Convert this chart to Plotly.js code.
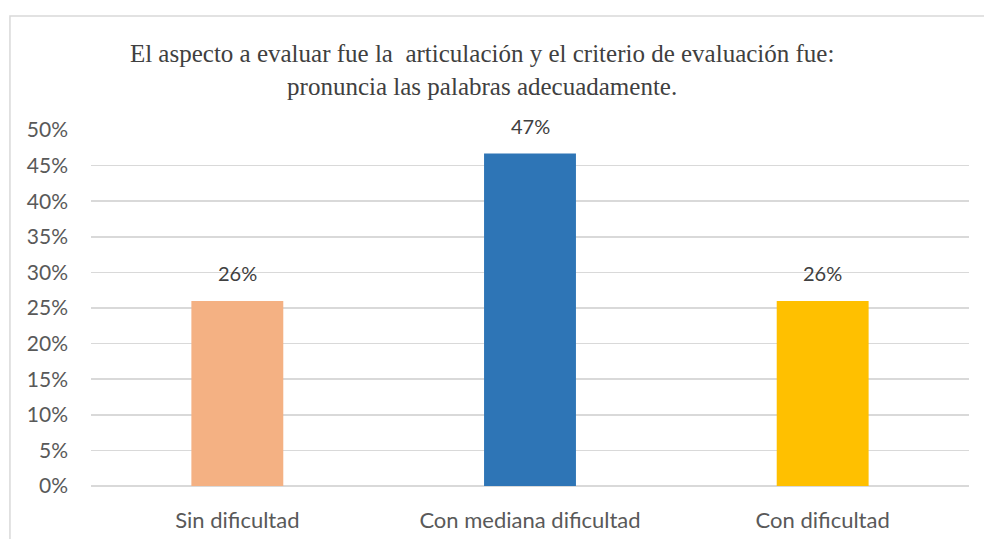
<!DOCTYPE html>
<html>
<head>
<meta charset="utf-8">
<script src="https://cdn.plot.ly/plotly-3.0.1.min.js"></script>
<style>
html,body{margin:0;padding:0;background:#fff;}
#chart{width:984px;height:539px;}
</style>
</head>
<body>
<div id="chart"></div>
<script>
const categories = ["Sin dificultad", "Con mediana dificultad", "Con dificultad"];
const values = [0.26, 0.467, 0.26];
const valueLabels = ["26%", "47%", "26%"];
const barColors = ["#F4B183", "#2E75B6", "#FFC000"];
const yTickVals = [0, 0.05, 0.10, 0.15, 0.20, 0.25, 0.30, 0.35, 0.40, 0.45, 0.50];
const yTickText = ["0%", "5%", "10%", "15%", "20%", "25%", "30%", "35%", "40%", "45%", "50%"];
const titleText = "El aspecto a evaluar fue la  articulación y el criterio de evaluación fue:<br>pronuncia las palabras adecuadamente.";

const trace = {
  type: "bar",
  x: categories,
  y: values,
  marker: {color: barColors},
  hoverinfo: "none",
  cliponaxis: false
};

const annotations = categories.map((c, i) => ({
  x: c, y: values[i], xref: "x", yref: "y",
  text: valueLabels[i], showarrow: false,
  yanchor: "bottom", yshift: 14,
  font: {family: "Lato, 'Noto Sans', sans-serif", size: 20, color: "#404040"}
}));

const layout = {
  width: 984, height: 539,
  margin: {l: 91, r: 15, t: 130, b: 53},
  paper_bgcolor: "#ffffff",
  plot_bgcolor: "#ffffff",
  bargap: 0.686,
  showlegend: false,
  title: {
    text: titleText,
    font: {family: "'Liberation Serif', 'Times New Roman', serif", size: 25, color: "#404040"},
    x: 0.49, xref: "container", xanchor: "center",
    y: 1 - 62/539, yref: "container", yanchor: "top"
  },
  xaxis: {
    type: "category",
    showgrid: false,
    zeroline: false,
    showline: false,
    ticks: "",
    ticklabelstandoff: 19,
    tickfont: {family: "Lato, 'Noto Sans', sans-serif", size: 22, color: "#595959"}
  },
  yaxis: {
    range: [0, 0.5],
    tickvals: yTickVals,
    ticktext: yTickText,
    showgrid: true,
    gridcolor: "#D9D9D9",
    gridwidth: 1.5,
    zeroline: true,
    zerolinecolor: "#D9D9D9",
    zerolinewidth: 1.5,
    showline: false,
    ticks: "",
    ticklabelstandoff: 22,
    tickfont: {family: "Lato, 'Noto Sans', sans-serif", size: 21, color: "#595959"}
  },
  annotations: annotations,
  shapes: [{
    type: "rect", xref: "paper", yref: "paper",
    x0: -0.0923, x1: 1.08, y0: -0.4, y1: 1.3202,
    line: {color: "#D9D9D9", width: 1.5},
    fillcolor: "rgba(0,0,0,0)",
    layer: "below"
  }]
};

Plotly.newPlot("chart", [trace], layout, {staticPlot: true, displayModeBar: false});
</script>
</body>
</html>
